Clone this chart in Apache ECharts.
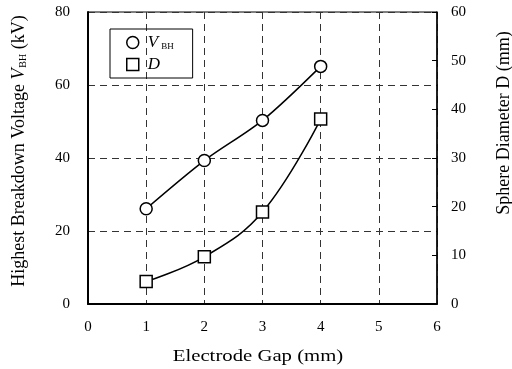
<!DOCTYPE html>
<html>
<head>
<meta charset="utf-8">
<script src="https://cdn.jsdelivr.net/npm/echarts@6/dist/echarts.min.js"></script>
<style>
html,body{margin:0;padding:0;background:#fff}
#main{width:512px;height:369px}
</style>
</head>
<body>
<div id="main"></div>
<script>
// data
var gap = [1, 2, 3, 4];
var vbh = [26.1, 39.3, 50.3, 65.1];
var diam = [4.6, 9.7, 18.9, 38.0];
var xTicks = [0, 1, 2, 3, 4, 5, 6];

var chart = echarts.init(document.getElementById('main'));
var serif = 'Liberation Serif';
var dash = { color: '#333', width: 1, type: [7, 5] };

var option = {
    animation: false,
    textStyle: { fontFamily: serif },
    grid: {
        left: 88, right: 75, top: 12, bottom: 65,
        outerBoundsMode: 'none',
        show: true, borderColor: '#000', borderWidth: 1
    },
    // x title drawn stretched, the scan has wide letter spacing
    graphic: [{
        type: 'text', x: 258, y: 357, scaleX: 1.22,
        style: {
            text: 'Electrode Gap (mm)', fill: '#000',
            font: '17px "Liberation Serif"',
            textAlign: 'center', textVerticalAlign: 'middle'
        }
    }],
    legend: {
        left: 110, top: 29,
        orient: 'vertical',
        padding: [5, 19, 5, 16],
        itemGap: 5,
        borderColor: '#000', borderWidth: 1,
        itemWidth: 12, itemHeight: 12,
        data: [
            { name: 'VBH', icon: 'circle', itemStyle: { color: '#fff', borderColor: '#000', borderWidth: 1.5 } },
            { name: 'D', icon: 'rect', itemStyle: { color: '#fff', borderColor: '#000', borderWidth: 1.5 } }
        ],
        formatter: function (n) {
            return n === 'VBH' ? '{i|V}{s|BH}' : '{i|D}';
        },
        textStyle: {
            fontFamily: serif,
            padding: [0, 0, 0, 4],
            rich: {
                i: { fontFamily: serif, fontStyle: 'italic', fontSize: 17, color: '#000' },
                s: { fontFamily: serif, fontSize: 9, color: '#000', verticalAlign: 'bottom', padding: [7, 0, 0, 3] }
            }
        }
    },
    xAxis: {
        type: 'value', min: 0, max: 6, interval: 1,
        axisLine: { lineStyle: { color: '#000', width: 2 } },
        axisTick: { show: false },
        axisLabel: { color: '#000', fontSize: 15, fontFamily: serif, margin: 16,
            formatter: function (v) { return xTicks.indexOf(v) >= 0 ? String(v) : ''; } },
        splitLine: { show: true, lineStyle: dash }
    },
    yAxis: [{
        type: 'value', min: 0, max: 80, interval: 20, position: 'left',
        name: '{t|Highest Breakdown Voltage }{i|V}{s|BH}{t| (kV)}',
        nameLocation: 'middle', nameGap: 60, nameRotate: 90,
        nameTextStyle: {
            padding: [0, 0, 0, 14],
            rich: {
                t: { fontFamily: serif, fontSize: 18, color: '#000' },
                i: { fontFamily: serif, fontSize: 18, fontStyle: 'italic', color: '#000' },
                s: { fontFamily: serif, fontSize: 10, color: '#000', verticalAlign: 'bottom', padding: [7, 0, 0, 1] }
            }
        },
        axisLine: { show: true, lineStyle: { color: '#000', width: 2 } },
        axisTick: { show: false },
        axisLabel: { color: '#000', fontSize: 15, fontFamily: serif, margin: 18 },
        splitLine: { show: true, lineStyle: dash }
    }, {
        type: 'value', min: 0, max: 60, interval: 10, position: 'right',
        name: 'Sphere Diameter D (mm)',
        nameLocation: 'middle', nameGap: 58, nameRotate: 90,
        nameTextStyle: { fontFamily: serif, fontSize: 18, color: '#000', padding: [0, 0, 0, 70] },
        axisLine: { show: true, lineStyle: { color: '#000', width: 1.5 } },
        axisTick: { show: true, inside: true, length: 5, lineStyle: { color: '#000' } },
        axisLabel: { color: '#000', fontSize: 15, fontFamily: serif, margin: 14 },
        splitLine: { show: false }
    }],
    series: [{
        name: 'VBH', type: 'line', yAxisIndex: 0, smooth: 0.3,
        data: gap.map(function (g, i) { return [g, vbh[i]]; }),
        symbol: 'circle', symbolSize: 12, showAllSymbol: true,
        lineStyle: { color: '#000', width: 1.5 },
        itemStyle: { color: '#fff', borderColor: '#000', borderWidth: 1.5 },
        z: 3
    }, {
        name: 'D', type: 'line', yAxisIndex: 1, smooth: 0.4,
        data: gap.map(function (g, i) { return [g, diam[i]]; }),
        symbol: 'rect', symbolSize: 12, showAllSymbol: true,
        lineStyle: { color: '#000', width: 1.5 },
        itemStyle: { color: '#fff', borderColor: '#000', borderWidth: 1.5 },
        z: 3
    }]
};
chart.setOption(option);
</script>
</body>
</html>
